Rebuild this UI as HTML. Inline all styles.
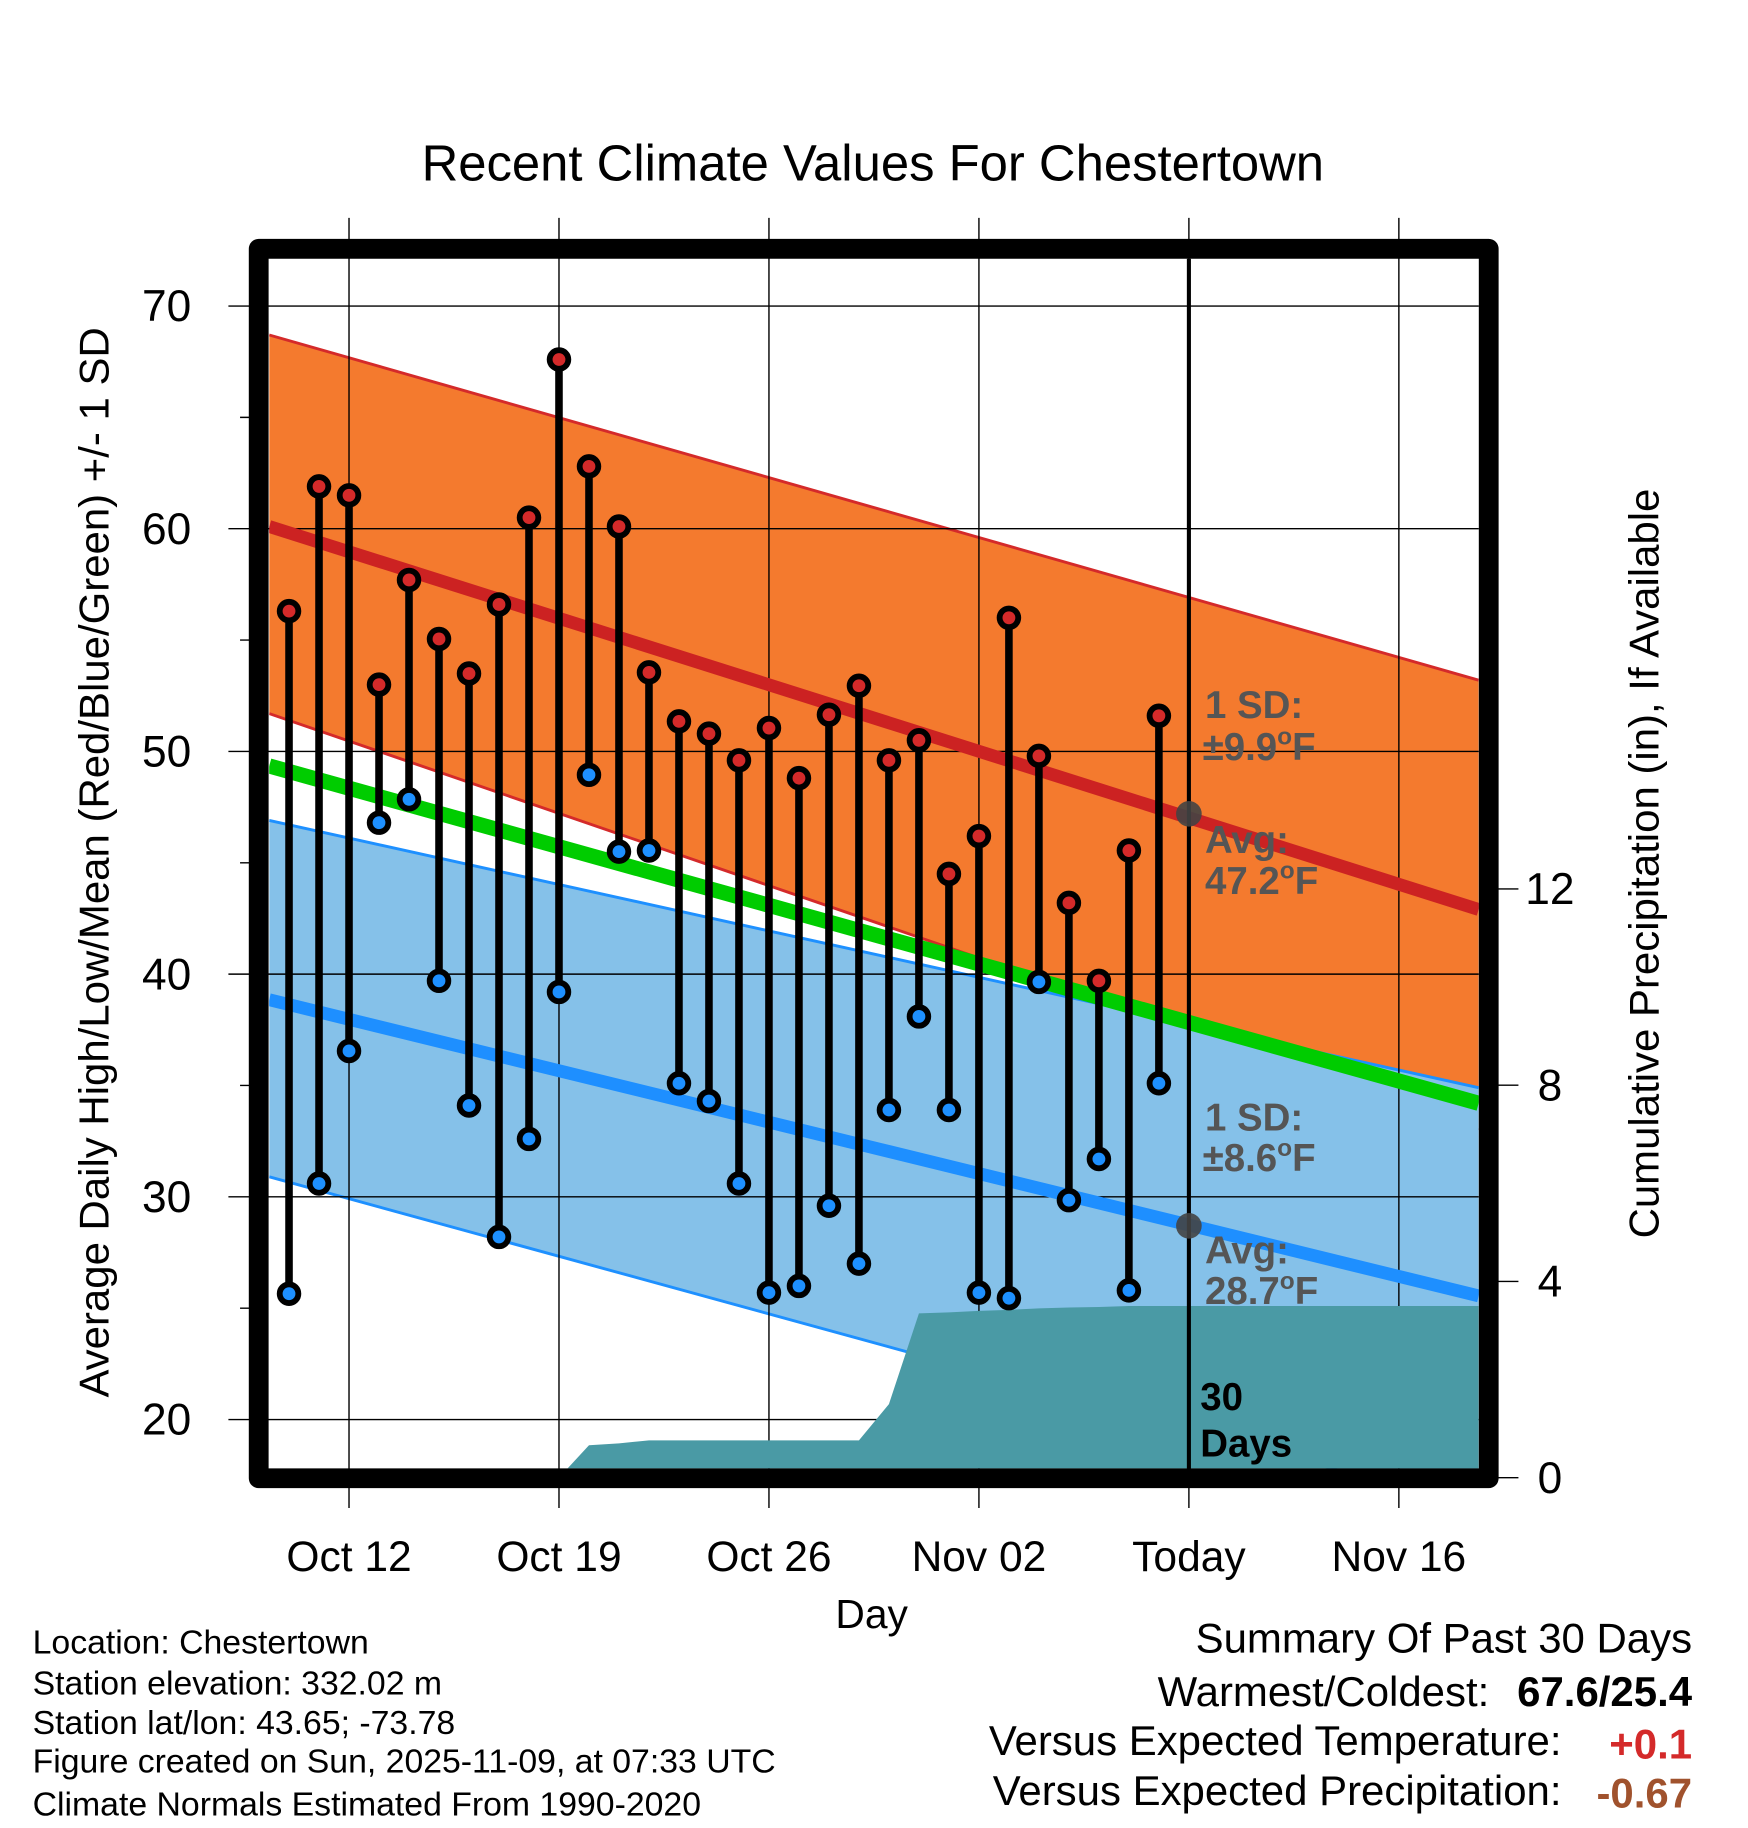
<!DOCTYPE html>
<html><head><meta charset="utf-8"><style>
html,body{margin:0;padding:0;background:#fff;}
svg{display:block;font-family:"Liberation Sans",Arial,sans-serif;}
</style></head><body>
<svg id="chart" width="1748" height="1828" viewBox="0 0 1500 1568.6" preserveAspectRatio="none" xmlns="http://www.w3.org/2000/svg">
<defs><clipPath id="plotclip"><rect x="231" y="222" width="1038" height="1038"/></clipPath></defs>
<rect x="0" y="0" width="1500" height="1568.6" fill="#fff"/>
<text x="749" y="155" font-size="43.6" text-anchor="middle">Recent Climate Values For Chestertown</text>
<g id="bands" clip-path="url(#plotclip)"></g>
<g id="grid"></g>
<g id="precip" clip-path="url(#plotclip)"></g>
<g id="means" clip-path="url(#plotclip)"></g>
<g id="marks"></g>
<g id="axes"></g>
<rect x="222" y="213.5" width="1055.5" height="1055" fill="none" stroke="#000" stroke-width="17" stroke-linejoin="round"/>
<g font-weight="bold" font-size="33" fill="#555">
<text x="1034" y="616">1 SD:</text>
<text x="1032" y="652">±9.9<tspan dy="-13" font-size="21">o</tspan><tspan dy="13">F</tspan></text>
<text x="1034" y="732">Avg:</text>
<text x="1034" y="767">47.2<tspan dy="-13" font-size="21">o</tspan><tspan dy="13">F</tspan></text>
<text x="1034" y="970">1 SD:</text>
<text x="1032" y="1005">±8.6<tspan dy="-13" font-size="21">o</tspan><tspan dy="13">F</tspan></text>
<text x="1034" y="1084">Avg:</text>
<text x="1034" y="1119">28.7<tspan dy="-13" font-size="21">o</tspan><tspan dy="13">F</tspan></text>
<text x="1030" y="1210" fill="#000">30</text>
<text x="1030" y="1250" fill="#000">Days</text>
</g>
<text x="748" y="1397" font-size="35" text-anchor="middle">Day</text>
<text transform="translate(93,740) rotate(-90)" font-size="36" text-anchor="middle">Average Daily High/Low/Mean (Red/Blue/Green) +/- 1 SD</text>
<text transform="translate(1423,741) rotate(-90)" font-size="36" text-anchor="middle">Cumulative Precipitation (in), If Available</text>
<g font-size="29">
<text x="28" y="1419">Location: Chestertown</text>
<text x="28" y="1454">Station elevation: 332.02 m</text>
<text x="28" y="1488">Station lat/lon: 43.65; -73.78</text>
<text x="28" y="1521">Figure created on Sun, 2025-11-09, at 07:33 UTC</text>
<text x="28" y="1558">Climate Normals Estimated From 1990-2020</text>
</g>
<g font-size="36">
<text x="1452" y="1418" text-anchor="end">Summary Of Past 30 Days</text>
<text x="1278" y="1464" text-anchor="end">Warmest/Coldest:</text>
<text x="1452" y="1464" text-anchor="end" font-weight="bold">67.6/25.4</text>
<text x="1340" y="1506" text-anchor="end">Versus Expected Temperature:</text>
<text x="1452" y="1509" text-anchor="end" font-weight="bold" fill="#d42a2a">+0.1</text>
<text x="1340" y="1549" text-anchor="end">Versus Expected Precipitation:</text>
<text x="1452" y="1551" text-anchor="end" font-weight="bold" fill="#a0522d">-0.67</text>
</g>
</svg>
<script>
// data (day index 0 = Oct 12)
const days = [-2,-1,0,1,2,3,4,5,6,7,8,9,10,11,12,13,14,15,16,17,18,19,20,21,22,23,24,25,26,27];
const highs = [56.3,61.9,61.5,53.0,57.7,55.05,53.5,56.6,60.5,67.6,62.8,60.1,53.55,51.35,50.8,49.6,51.05,48.8,51.65,52.95,49.6,50.5,44.5,46.2,56.0,49.8,43.2,39.7,45.55,51.6];
const lows = [25.65,30.6,36.55,46.8,47.85,39.7,34.1,28.2,32.6,39.2,48.95,45.5,45.55,35.1,34.3,30.6,25.7,26.0,29.6,27.0,33.9,38.1,33.9,25.7,25.45,39.65,29.85,31.7,25.8,35.1];
const precip = [0,0,0,0,0,0,0,0,0,0,0.66,0.7,0.76,0.76,0.76,0.76,0.76,0.76,0.76,0.76,1.5,3.35,3.37,3.4,3.42,3.45,3.47,3.48,3.5,3.5];
// normals at left edge / right edge of plot
const normDays = [-2.66,37.66];
const highMean = [60.1,42.9];
const highUpper = [68.7,53.2];
const highLower = [51.7,33.0];
const lowMean = [38.85,25.55];
const lowUpper = [46.9,34.9];
const lowLower = [30.9,16.0];
const avgMean = [49.35,34.2];
const todayIdx = 28;
const todayHighAvg = 47.2;
const todayLowAvg = 28.7;
const xTickDays = [0,7,14,21,28,35];
const xTickLabels = ["Oct 12","Oct 19","Oct 26","Nov 02","Today","Nov 16"];
const yTicks = [20,30,40,50,60,70];
const yMinor = [25,35,45,55,65];
const y2Ticks = [0,4,8,12];

const NS="http://www.w3.org/2000/svg";
const X = d => 299.5 + d*25.74;
const Y = v => 262.6 + (70-v)*19.11;
const Y2 = p => 1268 - p*42.1;
function mk(parent, tag, attrs){const e=document.createElementNS(NS,tag);for(const k in attrs)e.setAttribute(k,attrs[k]);document.getElementById(parent).appendChild(e);return e;}
function band(top,bot){return `M${X(normDays[0])},${Y(top[0])} L${X(normDays[1])},${Y(top[1])} L${X(normDays[1])},${Y(bot[1])} L${X(normDays[0])},${Y(bot[0])} Z`;}
function line(a){return `M${X(normDays[0])},${Y(a[0])} L${X(normDays[1])},${Y(a[1])}`;}

let e;
e=mk('bands','path',{d:band(highUpper,highLower),fill:'#f47a2e'});


e=mk('bands','path',{d:line(highUpper),stroke:'#d42a2a','stroke-width':2.5,fill:'none'});


e=mk('bands','path',{d:line(highLower),stroke:'#d42a2a','stroke-width':2.5,fill:'none'});


e=mk('bands','path',{d:band(lowUpper,lowLower),fill:'#85c1e9'});


e=mk('bands','path',{d:line(lowUpper),stroke:'#1e90ff','stroke-width':2.5,fill:'none'});


e=mk('bands','path',{d:line(lowLower),stroke:'#1e90ff','stroke-width':2.5,fill:'none'});



// grid
xTickDays.forEach((d,i)=>{
  e=mk('grid','line',{x1:X(d),x2:X(d),y1:187,y2:1294,stroke:'#000','stroke-width':1.2});
  
  
});
yTicks.forEach(v=>{
  e=mk('grid','line',{x1:196,x2:1269,y1:Y(v),y2:Y(v),stroke:'#000','stroke-width':1.2});
  
  
});
yMinor.forEach(v=>{
  e=mk('grid','line',{x1:206,x2:222,y1:Y(v),y2:Y(v),stroke:'#000','stroke-width':1.2});
  
  
});

// precipitation
let pd=`M${X(days[0])},${Y2(0)}`;
days.forEach((d,i)=>{pd+=` L${X(d)},${Y2(precip[i])}`;});
pd+=` L${X(normDays[1])},${Y2(precip[precip.length-1])} L${X(normDays[1])},${Y2(0)} Z`;
e=mk('precip','path',{d:pd,fill:'#4a9aa5'});



// means
e=mk('means','path',{d:line(avgMean),stroke:'#00cc00','stroke-width':13,fill:'none'});


e=mk('means','path',{d:line(highMean),stroke:'#cc2222','stroke-width':11,fill:'none'});


e=mk('means','path',{d:line(lowMean),stroke:'#1e8fff','stroke-width':11,fill:'none'});



// today line
e=mk('marks','line',{x1:X(todayIdx),x2:X(todayIdx),y1:222,y2:1262,stroke:'#000','stroke-width':3.5});


e=mk('marks','circle',{cx:X(todayIdx),cy:Y(todayHighAvg),r:11,fill:'#444','fill-opacity':0.9});


e=mk('marks','circle',{cx:X(todayIdx),cy:Y(todayLowAvg),r:11,fill:'#444','fill-opacity':0.9});



days.forEach((d,i)=>{
  e=mk('marks','line',{x1:X(d),x2:X(d),y1:Y(highs[i]),y2:Y(lows[i]),stroke:'#000','stroke-width':6.5});
  
  
  e=mk('marks','circle',{cx:X(d),cy:Y(highs[i]),r:8,fill:'#d42a2a',stroke:'#000','stroke-width':5});
  
  
  e=mk('marks','circle',{cx:X(d),cy:Y(lows[i]),r:8,fill:'#1e90ff',stroke:'#000','stroke-width':5});
  
  
});

// axes labels
xTickDays.forEach((d,i)=>{
  e=mk('axes','text',{x:X(d),y:1348,'font-size':36.5,'text-anchor':'middle'});
  e.textContent=xTickLabels[i];
  
  
});
yTicks.forEach(v=>{
  e=mk('axes','text',{x:143,y:Y(v)+13,'font-size':38,'text-anchor':'middle'});
  e.textContent=v;
  
  
});
y2Ticks.forEach(p=>{
  e=mk('axes','line',{x1:1277,x2:1303,y1:Y2(p),y2:Y2(p),stroke:'#000','stroke-width':1.2});
  
  
  e=mk('axes','text',{x:1330,y:Y2(p)+13,'font-size':38,'text-anchor':'middle'});
  e.textContent=p;
  
  
});
</script>
</body></html>
